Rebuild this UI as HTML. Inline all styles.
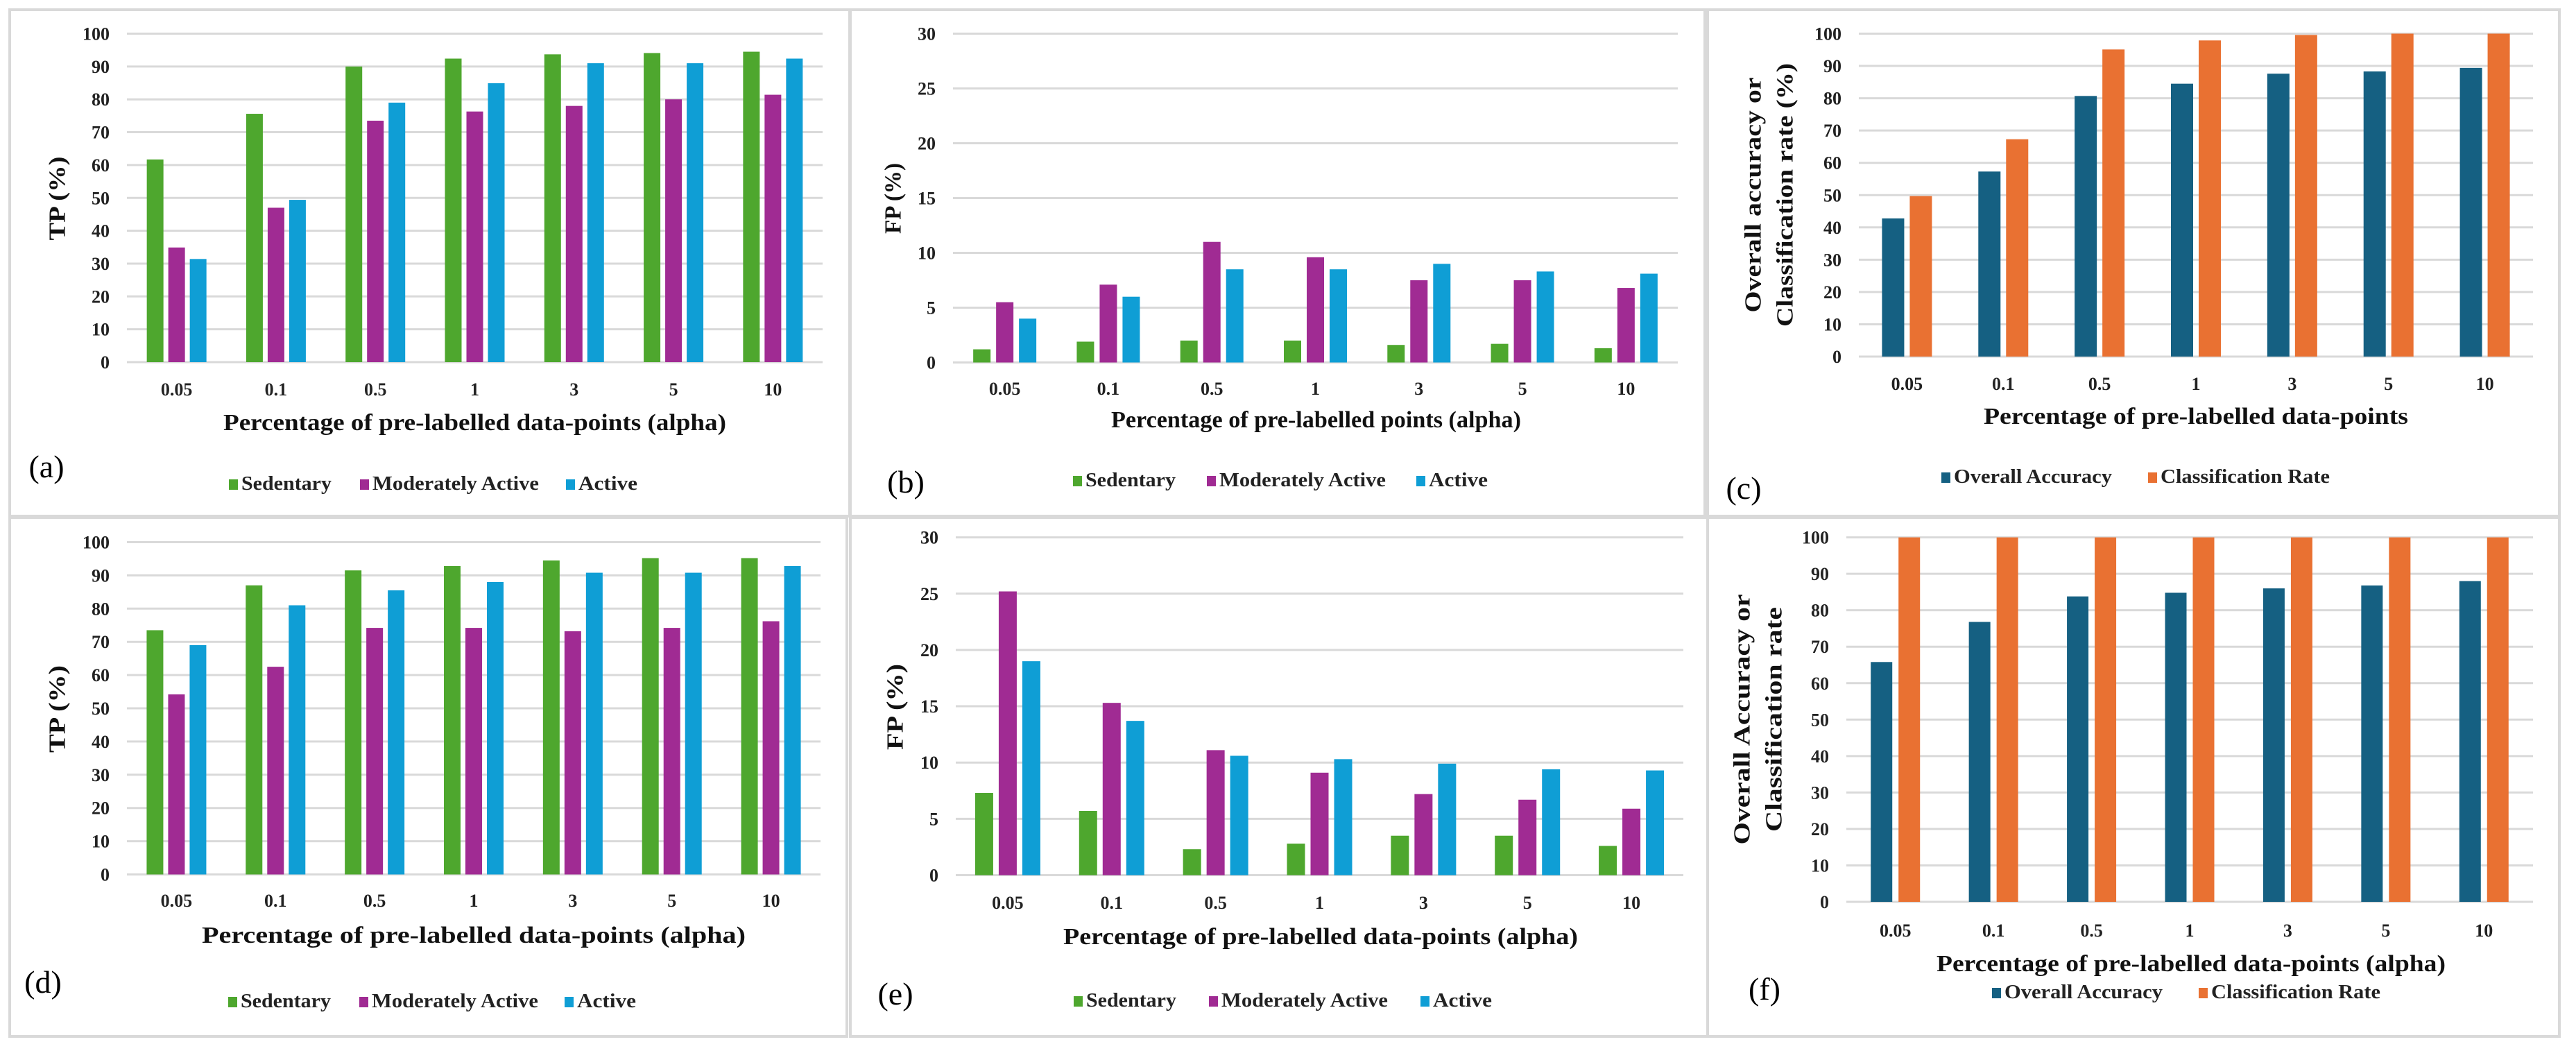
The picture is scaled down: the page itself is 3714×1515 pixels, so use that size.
<!DOCTYPE html>
<html><head><meta charset="utf-8"><style>
html,body{margin:0;padding:0;background:#fff;}
svg{display:block;font-family:"Liberation Serif",serif;}
</style></head><body>
<svg id="fig" width="3714" height="1515" viewBox="0 0 3714 1515" xmlns="http://www.w3.org/2000/svg">
<rect x="0" y="0" width="3714" height="1515" fill="#fff"/>
</svg>
<script>
const categories = ["0.05","0.1","0.5","1","3","5","10"];
const tpTicks = [0,10,20,30,40,50,60,70,80,90,100];
const fpTicks = [0,5,10,15,20,25,30];
const accTicks = [0,10,20,30,40,50,60,70,80,90,100];
// (a)
const aSedentary = [61.7,75.6,90.0,92.4,93.7,94.1,94.5];
const aModerate  = [34.9,47.0,73.5,76.3,78.0,80.0,81.4];
const aActive    = [31.4,49.4,79.0,84.9,91.0,91.0,92.4];
// (b)
const bSedentary = [1.2,1.9,2.0,2.0,1.6,1.7,1.3];
const bModerate  = [5.5,7.1,11.0,9.6,7.5,7.5,6.8];
const bActive    = [4.0,6.0,8.5,8.5,9.0,8.3,8.1];
// (c)
const cAccuracy  = [42.8,57.3,80.7,84.5,87.6,88.3,89.4];
const cRate      = [49.7,67.3,95.1,97.9,99.6,100,100];
// (d)
const dSedentary = [73.5,87.0,91.5,92.8,94.5,95.2,95.2];
const dModerate  = [54.2,62.5,74.2,74.2,73.2,74.2,76.2];
const dActive    = [69.0,81.0,85.5,88.0,90.8,90.8,92.8];
// (e)
const eSedentary = [7.3,5.7,2.3,2.8,3.5,3.5,2.6];
const eModerate  = [25.2,15.3,11.1,9.1,7.2,6.7,5.9];
const eActive    = [19.0,13.7,10.6,10.3,9.9,9.4,9.3];
// (f)
const fAccuracy  = [65.8,76.8,83.8,84.8,86.0,86.8,88.0];
const fRate      = [100,100,100,100,100,100,100];

const NS="http://www.w3.org/2000/svg";
const svg=document.getElementById('fig');
function mk(tag,attrs,parent,text){const e=document.createElementNS(NS,tag);for(const k in attrs)e.setAttribute(k,attrs[k]);if(text!==undefined)e.textContent=text;(parent||svg).appendChild(e);return e;}

const GREEN="#4ea72e",PURPLE="#a02b93",BLUE="#0f9ed5",NAVY="#156082",ORANGE="#e97132";

// panel frames
const frames=[["panel-a",14,14,1211,730],["panel-b",1226,14,1232,730],["panel-c",2462,14,1228,730],
["panel-d",14,746,1207,748],["panel-e",1226,746,1236,748],["panel-f",2462,746,1228,748]];
frames.forEach(f=>{const r=mk('rect',{x:f[1],y:f[2],width:f[3],height:f[4],fill:'none',stroke:'#d9d9d9','stroke-width':4});

});

function panel(p){
  const g=mk('g',{});
  
  
  const yS=v=>p.y0-(v/p.max)*(p.y0-p.yTop);
  const cw=(p.x1-p.x0)/categories.length;
  const xC=i=>p.x0+cw*(i+0.5);
  p.ticks.forEach(t=>{
    const l=mk('line',{x1:p.x0,x2:p.x1,y1:yS(t),y2:yS(t),stroke:'#d9d9d9','stroke-width':3},g);
    
    
    const tx=mk('text',{x:p.x0-25,y:yS(t)+9,'text-anchor':'end','font-size':26,'font-weight':'bold',fill:'#222'},g,String(t));
    
    
  });
  const n=p.series.length;
  const total=n*p.bw+(n-1)*p.gap;
  categories.forEach((c,i)=>{
    p.series.forEach((s,j)=>{
      const v=s.data[i];
      const x=xC(i)-total/2+j*(p.bw+p.gap);
      const b=mk('rect',{x:x,y:yS(v),width:p.bw,height:p.y0-yS(v),fill:s.color},g);
      
      
    });
    const t=mk('text',{x:xC(i),y:p.tickY,'text-anchor':'middle','font-size':26,'font-weight':'bold',fill:'#222'},g,c);
    
    
  });
  const xt=mk('text',{x:(p.titleX0+p.titleX1)/2,y:p.titleY,'text-anchor':'middle','font-size':34,'font-weight':'bold',fill:'#111',textLength:p.titleX1-p.titleX0,lengthAdjust:'spacingAndGlyphs'},g,p.xTitle);
  
  
  p.yTitle.forEach((line,k)=>{
    const yt=mk('text',{x:0,y:0,transform:`translate(${line.x},${p.yTitleC}) rotate(-90)`,'text-anchor':'middle','dominant-baseline':'central','font-size':34,'font-weight':'bold',fill:'#111',textLength:line.len,lengthAdjust:'spacingAndGlyphs'},g,line.t);
    
    
  });
  const lab=mk('text',{x:p.lab[0],y:p.lab[1],'text-anchor':'middle','font-size':46,fill:'#000'},g,p.labText);
  
  
  p.series.forEach((s,j)=>{
    const lx=p.legX[j];
    const sq=mk('rect',{x:lx,y:p.legY-15,width:13,height:15,fill:s.color},g);
    
    
    const lt=mk('text',{x:lx+18,y:p.legY,'font-size':28,'font-weight':'bold',fill:'#222',textLength:s.lw,lengthAdjust:'spacingAndGlyphs'},g,s.label);
    
    
  });
}

const tri=(s,m,a)=>[{key:'sedentary',label:'Sedentary',color:GREEN,data:s,lw:130},{key:'moderately-active',label:'Moderately Active',color:PURPLE,data:m,lw:240},{key:'active',label:'Active',color:BLUE,data:a,lw:85}];
const duo=(o,r)=>[{key:'overall-accuracy',label:'Overall Accuracy',color:NAVY,data:o,lw:228},{key:'classification-rate',label:'Classification Rate',color:ORANGE,data:r,lw:244}];

panel({name:'chart-a',x0:183,x1:1186,y0:522,yTop:48.5,max:100,ticks:tpTicks,bw:24,gap:7,series:tri(aSedentary,aModerate,aActive),
 tickY:570,xTitle:'Percentage of pre-labelled data-points (alpha)',titleX0:322,titleX1:1047,titleY:620,
 yTitle:[{t:'TP (%)',x:83,len:121}],yTitleC:286,lab:[67,688],labText:'(a)',legX:[330,519,816],legY:706});
panel({name:'chart-b',x0:1374,x1:2419,y0:522.5,yTop:48.5,max:30,ticks:fpTicks,bw:25,gap:8,series:tri(bSedentary,bModerate,bActive),
 tickY:569,xTitle:'Percentage of pre-labelled points (alpha)',titleX0:1602,titleX1:2193,titleY:616,
 yTitle:[{t:'FP (%)',x:1288,len:102}],yTitleC:286,lab:[1306,710],labText:'(b)',legX:[1547,1740,2042],legY:701});
panel({name:'chart-c',x0:2680,x1:3652,y0:514,yTop:48.5,max:100,ticks:accTicks,bw:32,gap:8,series:duo(cAccuracy,cRate),
 tickY:562,xTitle:'Percentage of pre-labelled data-points',titleX0:2860,titleX1:3472,titleY:611,
 yTitle:[{t:'Overall accuracy or',x:2528,len:339},{t:'Classification rate (%)',x:2574,len:380}],yTitleC:281,lab:[2514,719],labText:'(c)',legX:[2799,3097],legY:696});
panel({name:'chart-d',x0:183,x1:1183,y0:1260.5,yTop:781.5,max:100,ticks:tpTicks,bw:24,gap:7,series:tri(dSedentary,dModerate,dActive),
 tickY:1307,xTitle:'Percentage of pre-labelled data-points (alpha)',titleX0:291,titleX1:1075,titleY:1359,
 yTitle:[{t:'TP (%)',x:83,len:126}],yTitleC:1022,lab:[62,1431],labText:'(d)',legX:[329,518,814],legY:1452});
panel({name:'chart-e',x0:1378,x1:2427,y0:1261.5,yTop:774.6,max:30,ticks:fpTicks,bw:26,gap:8,series:tri(eSedentary,eModerate,eActive),
 tickY:1310,xTitle:'Percentage of pre-labelled data-points (alpha)',titleX0:1533,titleX1:2275,titleY:1361,
 yTitle:[{t:'FP (%)',x:1291,len:124}],yTitleC:1019,lab:[1291,1448],labText:'(e)',legX:[1548,1743,2048],legY:1451});
panel({name:'chart-f',x0:2662,x1:3652,y0:1300,yTop:774.6,max:100,ticks:accTicks,bw:31,gap:9,series:duo(fAccuracy,fRate),
 tickY:1350,xTitle:'Percentage of pre-labelled data-points (alpha)',titleX0:2792,titleX1:3526,titleY:1400,
 yTitle:[{t:'Overall Accuracy  or',x:2512,len:361},{t:'Classification rate',x:2558,len:324}],yTitleC:1037,lab:[2544,1441],labText:'(f)',legX:[2872,3170],legY:1439});
</script>
</body></html>
